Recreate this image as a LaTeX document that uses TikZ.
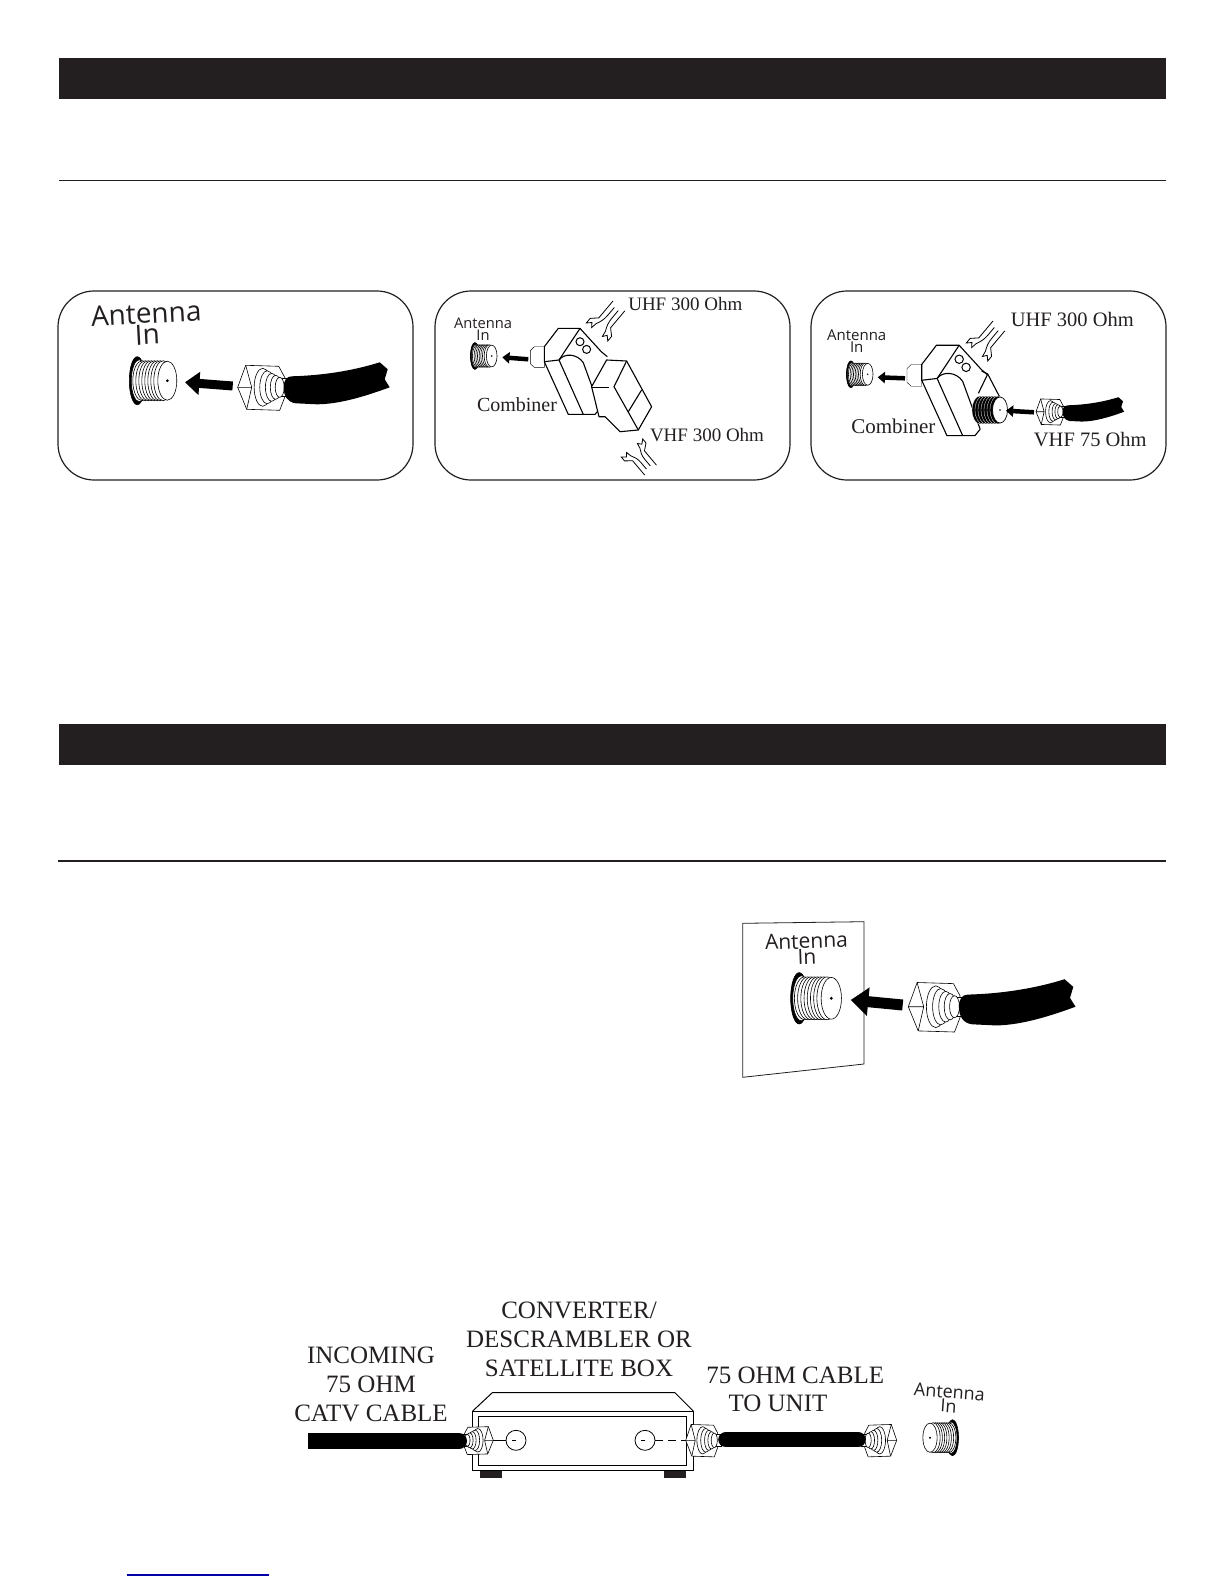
\documentclass[tikz,border=0pt]{standalone}
\usepackage{fontspec}
\setmainfont{Liberation Serif}
\newfontfamily\antfont{Open Sans}
\usetikzlibrary{arrows.meta,calc}
\definecolor{barblack}{HTML}{231F20}
\newcommand{\plugbody}{
    \draw[fill=white,line width=.6pt] (0,0) -- (8,-22) -- (41,-21) -- (47,-10) -- (47,10) -- (42,23) -- (9,22) -- cycle;
    \draw[line width=.6pt] (8,-22) -- (14,0) -- (9,22) (0,0) -- (14,0);
    \draw[fill=white,line width=.6pt] (38,-9) rectangle (52,9);
    \foreach \x/\r in {25/19,29.5/16.5,34/14,38/12,42/10}
      \draw[fill=white,line width=.6pt] (\x,0) ellipse [x radius=.45*\r,y radius=\r];
}
\tikzset{
  jack/.pic={
    \draw[fill=black,line width=.6pt] (-30,0) ellipse [x radius=8,y radius=24];
    \draw[fill=white,line width=.6pt] (-28,0) ellipse [x radius=8,y radius=21];
    \foreach \x in {-25,-22,-19,-16,-13,-10,-7,-4}
      \draw[fill=white,line width=.6pt] (\x,0) ellipse [x radius=9.5,y radius=20];
    \draw[fill=white,line width=.6pt] (0,0) ellipse [x radius=9.5,y radius=19.5];
    \fill (0,0) circle [radius=1.5];
  },
  plug/.pic={
    \plugbody
  },
  bentplug/.pic={
    \plugbody
    \fill (46,0) .. controls (46,-7) and (49,-11) .. (54,-11) .. controls (90,-12) and (120,-18) .. (142,-25)
      -- (150,-18) -- (147,-8) -- (152,0) .. controls (125,10) and (100,17) .. (79,17)
      -- (58,16) .. controls (50,15) and (46,9) .. (46,0) -- cycle;
  },
  twinlead/.pic={
    \foreach \s in {1,-1}{
      \draw[line width=.8pt] (34,\s*7.7) -- (12,\s*7.7) -- (6,\s*14) -- (0,\s*14) -- (4,\s*10) -- (0,\s*7) -- (6,\s*6) .. controls (10,\s*4) and (14,\s*2.5) .. (20,\s*2.5) -- (30,\s*2.5);
    }
  },
  combiner/.pic={
    \draw[fill=white,thin] (0,-10) -- (-10,-10) -- (-14,-6) -- (-14,7) -- (-10,10.7) -- (0,10.7) -- cycle;
    \draw[fill=white,line width=1.1pt] (55.7,51.7) -- (50.7,57.7) -- (24,57.7) -- (0,5) -- (0,-10) -- (14,-28.3) -- (35.7,-28.3) -- (57,-5) -- (63,0);
    \draw[line width=1.1pt] (35.7,-28.3) -- (14.7,3.3) -- (0,5);
    \draw[line width=1.1pt] (14.7,3.3) -- (39,57.7);
    \draw[line width=1.1pt] (14.7,3.3) .. controls (20,-4) and (33,-3) .. (39,6) -- (55.7,51.7);
    \draw[line width=1pt] (35.7,-15) circle [radius=4] (42.3,-7.3) circle [radius=4];
  },
  fatarrow/.style={line width=#1,-{Triangle[length=0pt 1.6,width=0pt 2.5]}},
  coax/.style={line width=#1,black},
  ohmlabel/.style={inner sep=0pt,align=center,font=\fontsize{#1}{29}\selectfont,text=barblack},
  antlabel/.style 2 args={inner sep=0pt,align=center,font=\antfont\fontsize{#1}{#2}\selectfont,text=barblack},
  roundpanel/.style={draw=barblack,line width=1.2pt,rounded corners=36pt},
  headbar/.style={fill=barblack}
}
\begin{document}
\begin{tikzpicture}[x=1pt,y=-1pt]
  \useasboundingbox (0,0) rectangle (1224,1584);
  % section bars and rules
  \fill[headbar] (59,58) rectangle (1166,99);
  \draw[barblack,line width=1pt] (59,180.7) -- (1166,180.7);
  \fill[headbar] (59,724) rectangle (1166,765);
  \draw[barblack,line width=2pt] (58,860.7) -- (1166,860.7);
  \draw[roundpanel] (58,291) rectangle (413,480);
  \draw[roundpanel] (435,291) rectangle (790,480);
  \draw[roundpanel] (811,291) rectangle (1166,480);

  % panel one
  \coordinate (jackA) at (167.3,380.7);
  \coordinate (plugA) at (237.7,387.3);
  \coordinate (tipA) at (185,382.3);
  \coordinate (tailA) at (232.7,386);
  \pic at (jackA) {jack};
  \pic at (plugA) {bentplug};
  \draw[fatarrow=9pt] (tailA) -- (tipA);
  \node[antlabel={28}{18},rotate=3] (antA) at (146.7,324) {Antenna\\In};

  % panel two
  \coordinate (jackB) at (491.7,356);
  \coordinate (combB) at (544.3,356.7);
  \coordinate (tipB) at (502.3,357.3);
  \coordinate (tailB) at (528.3,359.3);
  \pic[scale=.56] at (jackB) {jack};
  \pic[rotate=50] at (597,332) {twinlead};
  \pic[rotate=-50,xscale=.85] at (632,448) {twinlead};
  \pic at (combB) {combiner};
  \begin{scope}[shift={(combB)}]
    \draw[fill=white,line width=1.1pt] (47.3,30) -- (62.3,3.3) -- (82.3,4.3) -- (107.3,50) -- (94,73.3) -- (75.7,75) -- (60.7,60) -- (54.7,60) -- cycle;
    \draw[line width=1.1pt] (82.3,4.3) -- (69.7,30) -- (94,73.3) (84,55) -- (97.3,33.3);
    \draw[thin] (47.3,30) -- (64.7,30);
  \end{scope}
  \draw[fatarrow=4.5pt] (tailB) -- (tipB);
  \node[antlabel={14.7}{12}] (antB) at (483,329) {Antenna\\In};
  \node[ohmlabel=19] (uhfB) at (685.3,304) {UHF 300 Ohm};
  \node[ohmlabel=19] (vhfB) at (707,435.5) {VHF 300 Ohm};
  \node[ohmlabel=20] (combinerB) at (517,404.3) {Combiner};

  % panel three
  \coordinate (jackC) at (867.7,374.3);
  \coordinate (combC) at (921.7,375);
  \coordinate (coaxC) at (1000,410);
  \coordinate (plugC) at (1036,411.7);
  \coordinate (tipC) at (877.7,377.3);
  \coordinate (tailC) at (905,378.3);
  \coordinate (tipD) at (1006,410.7);
  \coordinate (tailD) at (1034,412.3);
  \pic[scale=.56] at (jackC) {jack};
  \pic[rotate=50] at (977,352) {twinlead};
  \pic[scale=1.05] at (combC) {combiner};
  \begin{scope}[shift={(combC)}]
    \draw[line width=1.1pt] (66,-1) -- (56.7,18.3);
    \draw[line width=1.1pt] (60,-4) -- (66,-1) -- (78,22);
  \end{scope}
  \begin{scope}[shift={(coaxC)}]
    \foreach \x in {-20,-17,-14,-11,-8,-5,-2}
      \draw[white,fill=black,line width=.3pt] (\x,0) ellipse [x radius=8,y radius=14];
    \draw[fill=white,line width=.7pt] (0,0) ellipse [x radius=7.5,y radius=13];
    \fill (0,0) circle [radius=.9];
  \end{scope}
  \pic[scale=.58] at (plugC) {bentplug};
  \draw[fatarrow=4.5pt] (tailC) -- (tipC);
  \draw[fatarrow=4.5pt] (tailD) -- (tipD);
  \node[antlabel={15}{10.7}] (antC) at (856.7,341) {Antenna\\In};
  \node[ohmlabel=20.5] (uhfC) at (1072.3,319.3) {UHF 300 Ohm};
  \node[ohmlabel=20.5] (vhfC) at (1090.3,440) {VHF 75 Ohm};
  \node[ohmlabel=21] (combinerC) at (893.3,426.7) {Combiner};

  % wall plate
  \draw[barblack,line width=.8pt] (742.7,923.3) -- (864,921.7) -- (864,1064) -- (742.7,1077.3) -- cycle;
  \coordinate (jackW) at (831.3,998.3);
  \coordinate (plugW) at (908.3,1006.7);
  \coordinate (tipW) at (850.7,1000);
  \coordinate (tailW) at (902.7,1005);
  \pic[scale=1.07] at (jackW) {jack};
  \pic[scale=1.1] at (plugW) {bentplug};
  \draw[fatarrow=11pt] (tailW) -- (tipW);
  \node[antlabel={21}{16},rotate=2] (antW) at (806.7,949) {Antenna\\In};

  % converter box
  \draw[line width=1pt] (472.7,1411) -- (492.3,1392.7) -- (675,1392.7) -- (693.3,1411);
  \draw[line width=1pt] (472.7,1411) rectangle (693.3,1470.7);
  \draw[line width=1pt] (478.3,1416.7) rectangle (686.7,1465.7);
  \fill[barblack] (480,1471) rectangle (501.7,1478);
  \fill[barblack] (664,1471) rectangle (686,1478);
  \node[circle,draw,line width=.8pt,minimum size=20pt,inner sep=0pt] (portin) at (516,1440.3) {};
  \node[circle,draw,line width=.8pt,minimum size=20pt,inner sep=0pt] (portout) at (645,1440.3) {};
  \draw[line width=.8pt] (portin.center) -- ++(-4,0);
  \draw[line width=.8pt] (portout.center) -- ++(-4,0);

  % cable run
  \coordinate (inplug) at (493.3,1440.3);
  \coordinate (outplug) at (685.7,1440.3);
  \coordinate (unitplug) at (896.7,1440.3);
  \coordinate (catvend) at (308.3,1441);
  \coordinate (catvtip) at (459,1441);
  \coordinate (cableL) at (726,1439.5);
  \coordinate (cableR) at (858,1439.5);
  \coordinate (jackU) at (930,1437.7);
  \draw[line width=.8pt] (inplug) -- (portin);
  \draw[line width=.8pt,dashed,dash pattern=on 8pt off 5pt] (portout) -- (outplug);
  \pic[xscale=-.62,yscale=.62] at (inplug) {plug};
  \pic[xscale=.68,yscale=.72] at (outplug) {plug};
  \pic[xscale=-.68,yscale=.72] at (unitplug) {plug};
  \draw[coax=16pt] (catvend) -- (catvtip);
  \fill (catvtip) circle [radius=8];
  \draw[coax=15.6pt,line cap=round] (cableL) -- (cableR);
  \pic[xscale=-.75,yscale=.75] at (jackU) {jack};
  \node[antlabel={18}{11},rotate=-4] (antU) at (949,1399) {Antenna\\In};

  \node[ohmlabel=25] (converter) at (579,1339.5) {CONVERTER/\\DESCRAMBLER OR\\SATELLITE BOX};
  \node[ohmlabel=25] (incoming) at (371,1384) {INCOMING\\75 OHM\\CATV CABLE};
  \node[ohmlabel=25] (cableto) at (795.3,1375) {75 OHM CABLE};
  \node[ohmlabel=25] (tounit) at (778,1403.3) {TO UNIT};

  \draw[blue!65!black,line width=1.3pt] (126.7,1575) -- (269,1575);
\end{tikzpicture}
\end{document}
